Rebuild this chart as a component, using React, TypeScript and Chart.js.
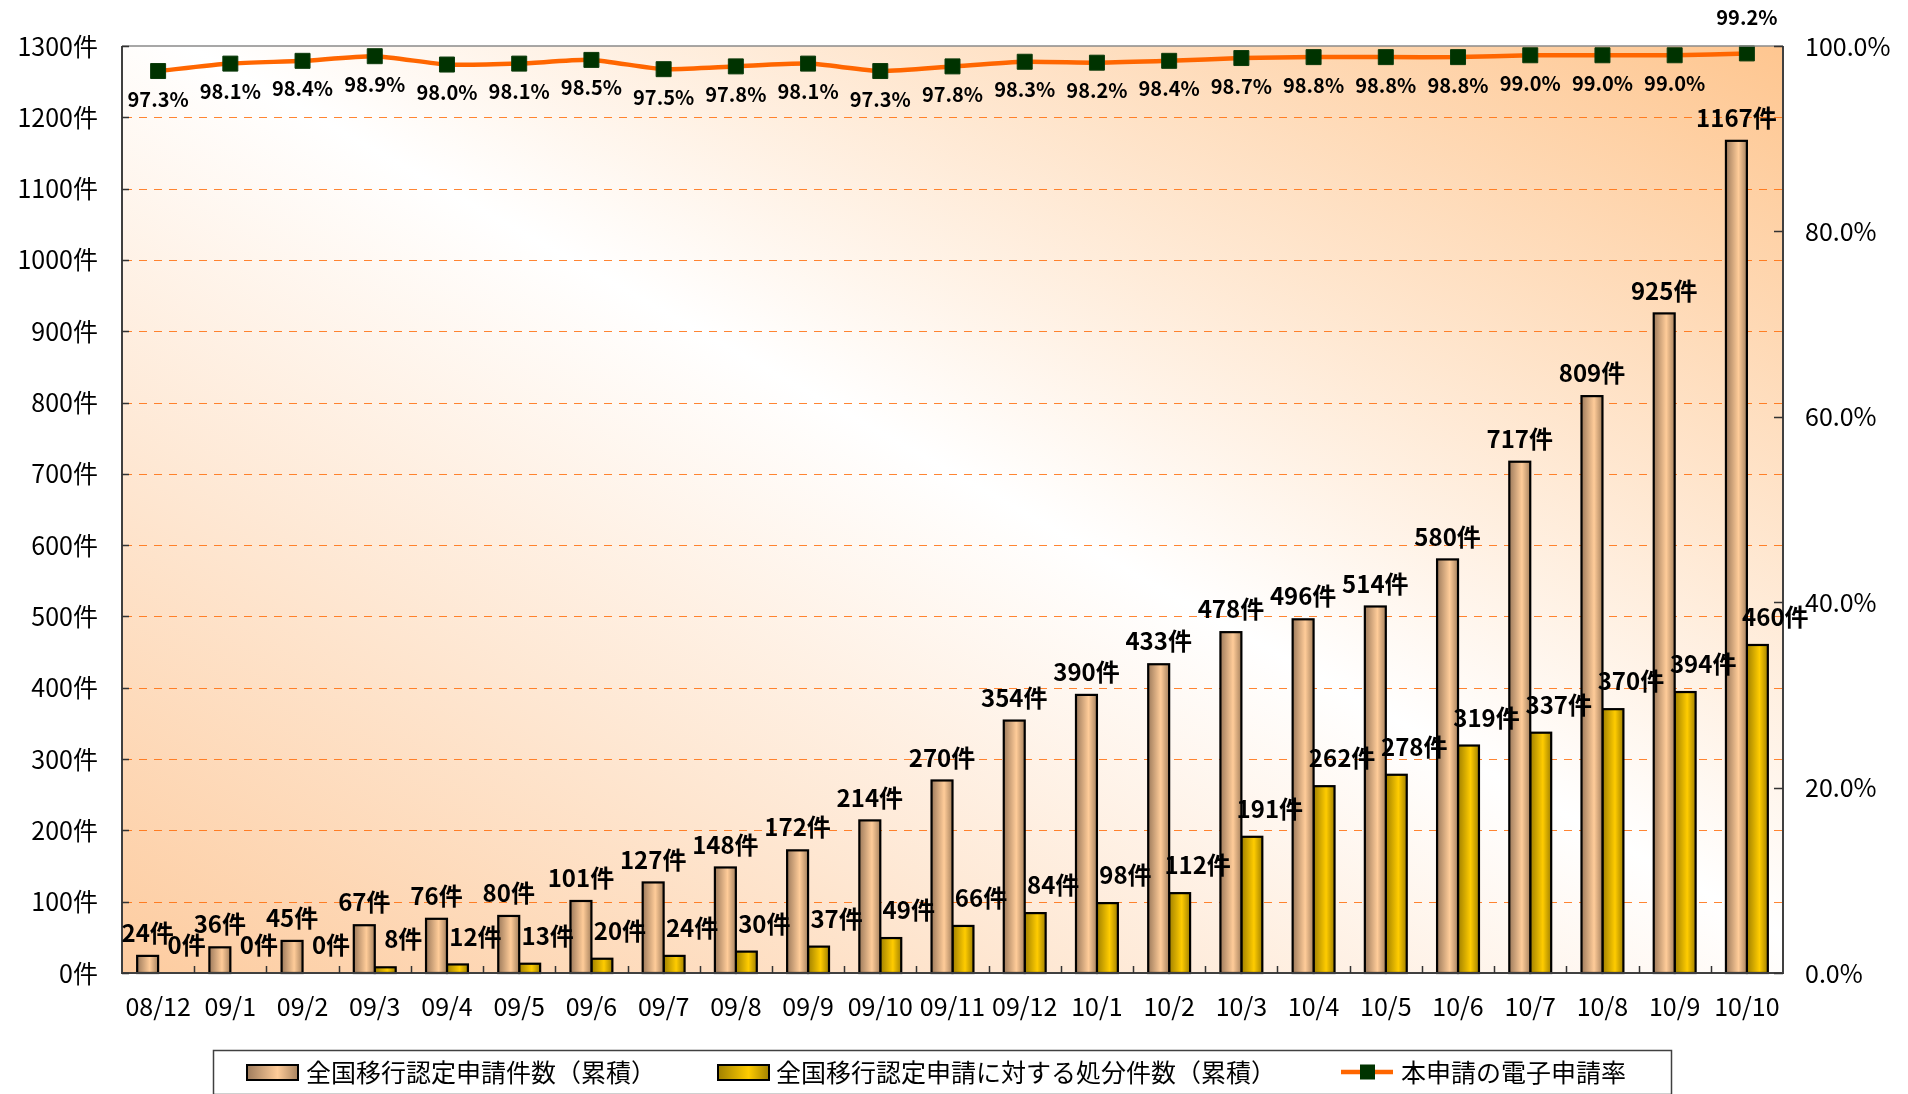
import React, { useEffect, useRef } from 'react';
import { Chart, registerables } from 'chart.js';

Chart.register(...registerables);

// ---- data ----
const months = ['08/12', '09/1', '09/2', '09/3', '09/4', '09/5', '09/6', '09/7', '09/8', '09/9', '09/10', '09/11', '09/12', '10/1', '10/2', '10/3', '10/4', '10/5', '10/6', '10/7', '10/8', '10/9', '10/10'];
const applications = [24, 36, 45, 67, 76, 80, 101, 127, 148, 172, 214, 270, 354, 390, 433, 478, 496, 514, 580, 717, 809, 925, 1167];
const dispositions = [0, 0, 0, 8, 12, 13, 20, 24, 30, 37, 49, 66, 84, 98, 112, 191, 262, 278, 319, 337, 370, 394, 460];
const electronicRate = [97.3, 98.1, 98.4, 98.9, 98.0, 98.1, 98.5, 97.5, 97.8, 98.1, 97.3, 97.8, 98.3, 98.2, 98.4, 98.7, 98.8, 98.8, 98.8, 99.0, 99.0, 99.0, 99.2];
const seriesNames = ['全国移行認定申請件数（累積）', '全国移行認定申請に対する処分件数（累積）', '本申請の電子申請率'];
const countUnit = '件';

const FONT = "'Noto Sans CJK JP', 'Noto Sans', sans-serif";

function tanGradient(ctx: CanvasRenderingContext2D, x0: number, x1: number) {
  const g = ctx.createLinearGradient(x0, 0, x1, 0);
  g.addColorStop(0, '#9E7B5C');
  g.addColorStop(0.6, '#FFCC99');
  g.addColorStop(1, '#A8835F');
  return g;
}
function goldGradient(ctx: CanvasRenderingContext2D, x0: number, x1: number) {
  const g = ctx.createLinearGradient(x0, 0, x1, 0);
  g.addColorStop(0, '#A08000');
  g.addColorStop(0.6, '#FFCC00');
  g.addColorStop(1, '#A38200');
  return g;
}

const backgroundPlugin = {
  id: 'plotBackground',
  beforeDraw(chart: any) {
    const { ctx, chartArea: a } = chart;
    ctx.save();
    ctx.fillStyle = '#FFFFFF';
    ctx.fillRect(0, 0, chart.width, chart.height);
    ctx.translate(a.left, a.top);
    ctx.scale(a.right - a.left, a.bottom - a.top);
    const g = ctx.createLinearGradient(0, 1, 1, 0);
    g.addColorStop(0, '#FDCCA0');
    g.addColorStop(0.52, '#FFFFFF');
    g.addColorStop(1, '#FEC690');
    ctx.fillStyle = g;
    ctx.fillRect(0, 0, 1, 1);
    ctx.restore();
  },
  beforeDatasetsDraw(chart: any) {
    const { ctx, chartArea: a, scales } = chart;
    const y = scales.y;
    ctx.save();
    ctx.strokeStyle = 'rgba(255,102,0,0.8)';
    ctx.lineWidth = 1;
    ctx.setLineDash([8, 7]);
    for (const t of y.ticks) {
      if (t.value <= y.min || t.value >= y.max) continue;
      const py = Math.round(y.getPixelForValue(t.value)) + 0.5;
      ctx.beginPath();
      ctx.moveTo(a.left + 2, py);
      ctx.lineTo(a.right - 1, py);
      ctx.stroke();
    }
    ctx.restore();
  },
  beforeDatasetDraw(chart: any, args: any) {
    const meta = args.meta;
    if (meta.type !== 'bar') return;
    const ctx = chart.ctx;
    ctx.save();
    for (const el of meta.data) {
      const w = el.width;
      const left = el.x - w / 2;
      const top = Math.min(el.y, el.base);
      const h = Math.abs(el.base - el.y);
      if (h < 0.5) continue;
      ctx.fillStyle = args.index === 0 ? tanGradient(ctx, left, left + w) : goldGradient(ctx, left, left + w);
      ctx.fillRect(left, top, w, h);
      ctx.strokeStyle = '#000000';
      ctx.lineWidth = 2.2;
      ctx.strokeRect(left, top, w, h);
    }
    ctx.restore();
    return false;
  },
  afterDatasetsDraw(chart: any) {
    const { ctx, chartArea: a, scales } = chart;
    ctx.save();
    // frame
    ctx.strokeStyle = '#8A8A8A';
    ctx.lineWidth = 1.5;
    ctx.beginPath();
    ctx.moveTo(a.left, a.top);
    ctx.lineTo(a.right, a.top);
    ctx.stroke();
    ctx.strokeStyle = '#404040';
    ctx.lineWidth = 2;
    ctx.beginPath();
    ctx.moveTo(a.left, a.top);
    ctx.lineTo(a.left, a.bottom);
    ctx.lineTo(a.right, a.bottom);
    ctx.lineTo(a.right, a.top);
    ctx.stroke();
    // inner ticks
    ctx.lineWidth = 1.5;
    ctx.strokeStyle = '#333333';
    ctx.beginPath();
    for (const t of scales.y.ticks) {
      const py = Math.round(scales.y.getPixelForValue(t.value)) + 0.5;
      ctx.moveTo(a.left, py);
      ctx.lineTo(a.left + 7, py);
    }
    for (const t of scales.y1.ticks) {
      const py = Math.round(scales.y1.getPixelForValue(t.value)) + 0.5;
      ctx.moveTo(a.right, py);
      ctx.lineTo(a.right - 9, py);
    }
    const n = months.length;
    const cw = (a.right - a.left) / n;
    for (let i = 1; i < n; i++) {
      const px = Math.round(a.left + i * cw) + 0.5;
      ctx.moveTo(px, a.bottom);
      ctx.lineTo(px, a.bottom - 7);
    }
    ctx.stroke();

    // data labels
    ctx.fillStyle = '#000000';
    ctx.textAlign = 'center';
    ctx.textBaseline = 'middle';
    const m0 = chart.getDatasetMeta(0);
    const m1 = chart.getDatasetMeta(1);
    const m2 = chart.getDatasetMeta(2);
    ctx.font = `bold 24px ${FONT}`;
    m0.data.forEach((el: any, i: number) => {
      ctx.fillText(applications[i] + countUnit, el.x, el.y - 23);
    });
    m1.data.forEach((el: any, i: number) => {
      ctx.fillText(dispositions[i] + countUnit, el.x + 18, el.y - 28);
    });
    ctx.font = `bold 20px ${FONT}`;
    m2.data.forEach((el: any, i: number) => {
      const last = i === m2.data.length - 1;
      ctx.fillText(electronicRate[i].toFixed(1) + '%', el.x, last ? el.y - 36 : el.y + 28);
    });
    ctx.restore();
  },
  afterDraw(chart: any) {
    const ctx = chart.ctx;
    ctx.save();
    // legend box
    ctx.strokeStyle = '#404040';
    ctx.lineWidth = 1.5;
    ctx.strokeRect(213.5, 1050.5, 1458, 44);
    const cy = 1072;
    ctx.fillStyle = tanGradient(ctx, 247, 298);
    ctx.fillRect(247, cy - 7, 51, 15);
    ctx.strokeStyle = '#000';
    ctx.lineWidth = 2;
    ctx.strokeRect(247, cy - 7, 51, 15);
    ctx.fillStyle = goldGradient(ctx, 718, 769);
    ctx.fillRect(718, cy - 7, 51, 15);
    ctx.strokeRect(718, cy - 7, 51, 15);
    ctx.strokeStyle = '#FF6600';
    ctx.lineWidth = 4.5;
    ctx.beginPath();
    ctx.moveTo(1341, cy);
    ctx.lineTo(1393, cy);
    ctx.stroke();
    ctx.fillStyle = '#003300';
    ctx.fillRect(1360, cy - 7.5, 15, 15);
    ctx.fillStyle = '#000';
    ctx.font = `25px ${FONT}`;
    ctx.textAlign = 'left';
    ctx.textBaseline = 'middle';
    ctx.fillText(seriesNames[0], 306, cy);
    ctx.fillText(seriesNames[1], 776, cy);
    ctx.fillText(seriesNames[2], 1401, cy);
    ctx.restore();
  },
};

export default function App() {
  const canvasRef = useRef<HTMLCanvasElement | null>(null);

  useEffect(() => {
    document.body.style.margin = '0';
    document.body.style.overflow = 'hidden';
    const canvas = canvasRef.current;
    if (!canvas) return;
    Chart.defaults.font.family = FONT;
    const chart = new Chart(canvas, {
      type: 'bar',
      data: {
        labels: months,
        datasets: [
          {
            type: 'bar',
            label: seriesNames[0],
            data: applications,
            backgroundColor: '#FFCC99',
            yAxisID: 'y',
            order: 1,
            categoryPercentage: 0.58,
            barPercentage: 1.0,
          },
          {
            type: 'bar',
            label: seriesNames[1],
            data: dispositions,
            backgroundColor: '#FFCC00',
            yAxisID: 'y',
            order: 1,
            categoryPercentage: 0.58,
            barPercentage: 1.0,
          },
          {
            type: 'line',
            label: seriesNames[2],
            data: electronicRate,
            yAxisID: 'y1',
            order: 0,
            borderColor: '#FF6600',
            borderWidth: 4.5,
            tension: 0.2,
            pointStyle: 'rect',
            pointRadius: 10.6,
            pointBackgroundColor: '#003300',
            pointBorderColor: '#0B3A0B',
            pointBorderWidth: 1,
            clip: false,
          } as any,
        ],
      },
      options: {
        responsive: false,
        maintainAspectRatio: false,
        animation: false,
        layout: { padding: { top: 46, left: 0, right: 0, bottom: 0 } },
        plugins: {
          legend: { display: false },
          tooltip: { enabled: false },
        },
        scales: {
          x: {
            type: 'category',
            grid: { display: false, drawTicks: false },
            border: { display: false },
            ticks: {
              color: '#000',
              font: { size: 25, family: FONT },
              padding: 18,
              maxRotation: 0,
              autoSkip: false,
            },
            afterFit: (s: any) => { s.height = 121; },
          },
          y: {
            position: 'left',
            min: 0,
            max: 1300,
            grid: { display: false, drawTicks: false },
            border: { display: false },
            ticks: {
              stepSize: 100,
              color: '#000',
              font: { size: 25, family: FONT },
              padding: 24,
              callback: (v: any) => `${v}${countUnit}`,
            },
            afterFit: (s: any) => { s.width = 122; },
          },
          y1: {
            position: 'right',
            min: 0,
            max: 100,
            grid: { display: false, drawTicks: false },
            border: { display: false },
            ticks: {
              stepSize: 20,
              color: '#000',
              font: { size: 25, family: FONT },
              padding: 22,
              callback: (v: any) => `${Number(v).toFixed(1)}%`,
            },
            afterFit: (s: any) => { s.width = 125; },
          },
        },
      } as any,
      plugins: [backgroundPlugin],
    });
    return () => chart.destroy();
  }, []);

  return (
    <div style={{ width: 1908, height: 1094, position: 'relative', background: '#fff' }}>
      <canvas ref={canvasRef} width={1908} height={1094} style={{ display: 'block' }} />
    </div>
  );
}
